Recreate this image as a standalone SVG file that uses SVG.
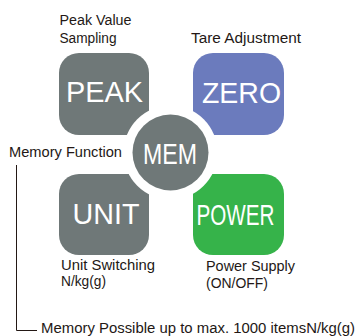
<svg xmlns="http://www.w3.org/2000/svg" width="356" height="336" viewBox="0 0 356 336">
<style>
.lbl{font-family:"Liberation Sans",Arial,sans-serif;font-size:14px;fill:#231815}
.key{font-family:"Liberation Sans",Arial,sans-serif;font-size:29px;fill:#ffffff}
.gray{fill:#6f7878}
.blue{fill:#6b7bbd}
.green{fill:#36b34a}
.line{fill:none;stroke:#231815;stroke-width:1}
</style>
<rect width="356" height="336" fill="#ffffff"/>
<g id="peak">
<rect class="gray" x="59" y="53" width="90" height="82" rx="20"/>
<text class="key" x="66" y="102" textLength="77" lengthAdjust="spacingAndGlyphs">PEAK</text>
</g>
<g id="zero">
<rect class="blue" x="193" y="53" width="91" height="82" rx="20"/>
<text class="key" x="202" y="103" textLength="79" lengthAdjust="spacingAndGlyphs">ZERO</text>
</g>
<g id="unit">
<rect class="gray" x="59" y="174" width="90" height="81" rx="20"/>
<text class="key" x="72.5" y="224" textLength="67" lengthAdjust="spacingAndGlyphs">UNIT</text>
</g>
<g id="power">
<rect class="green" x="193" y="174" width="91" height="81" rx="20"/>
<text class="key" x="196.5" y="225" textLength="78" lengthAdjust="spacingAndGlyphs">POWER</text>
</g>
<g id="mem">
<circle cx="170.5" cy="152.5" r="47" fill="#ffffff"/>
<circle class="gray" cx="170.5" cy="152.5" r="38"/>
<text class="key" x="143" y="163.5" font-size="24" textLength="54" lengthAdjust="spacingAndGlyphs">MEM</text>
</g>
<g id="labels">
<text class="lbl" x="59.5" y="25" textLength="72" lengthAdjust="spacingAndGlyphs">Peak Value</text>
<text class="lbl" x="59.5" y="43" textLength="57" lengthAdjust="spacingAndGlyphs">Sampling</text>
<text class="lbl" x="191" y="43" textLength="110" lengthAdjust="spacingAndGlyphs">Tare Adjustment</text>
<text class="lbl" x="9" y="157" textLength="113" lengthAdjust="spacingAndGlyphs">Memory Function</text>
<text class="lbl" x="61" y="270" textLength="94" lengthAdjust="spacingAndGlyphs">Unit Switching</text>
<text class="lbl" x="61" y="286" textLength="45" lengthAdjust="spacingAndGlyphs">N/kg(g)</text>
<text class="lbl" x="206" y="271" textLength="89" lengthAdjust="spacingAndGlyphs">Power Supply</text>
<text class="lbl" x="206" y="288" textLength="62" lengthAdjust="spacingAndGlyphs">(ON/OFF)</text>
<text class="lbl" x="41" y="333" textLength="314" lengthAdjust="spacingAndGlyphs">Memory Possible up to max. 1000 itemsN/kg(g)</text>
</g>
<g id="connectors">
<polyline class="line" points="16.5,165 16.5,330.5 37,330.5"/>
</g>
</svg>
